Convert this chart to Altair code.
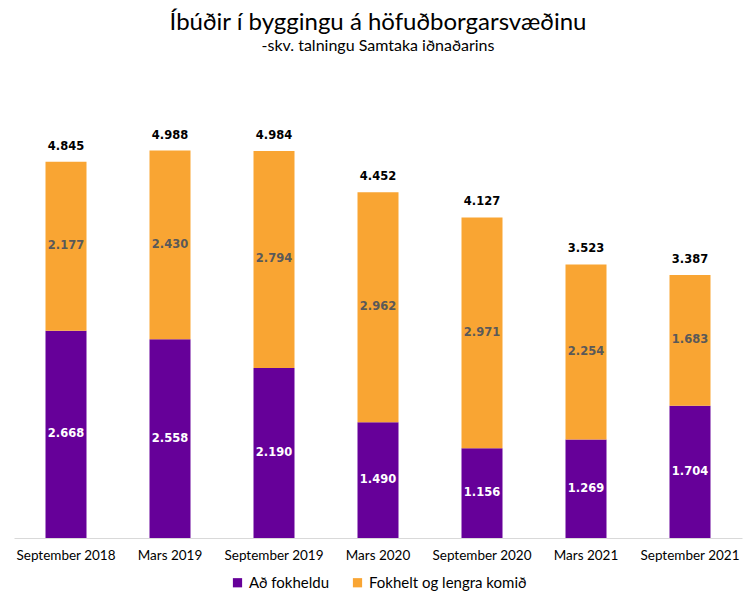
import altair as alt
import pandas as pd

periods = ["September 2018", "Mars 2019", "September 2019", "Mars 2020",
           "September 2020", "Mars 2021", "September 2021"]
series_names = ["Að fokheldu", "Fokhelt og lengra komið"]
ad_fokheldu = [2668, 2558, 2190, 1490, 1156, 1269, 1704]
fokhelt = [2177, 2430, 2794, 2962, 2971, 2254, 1683]
colors = ["#660099", "#F9A533"]
label_colors = ["#FFFFFF", "#595959"]


def fmt(v):
    return f"{v:,}".replace(",", ".")


rows = []
for i, p in enumerate(periods):
    for k, (name, vals) in enumerate(zip(series_names, [ad_fokheldu, fokhelt])):
        rows.append({"period": p, "series": name, "value": vals[i], "ord": k,
                     "label": fmt(vals[i]), "lcolor": label_colors[k]})
df = pd.DataFrame(rows)

totals = [a + b for a, b in zip(ad_fokheldu, fokhelt)]
df_tot = pd.DataFrame({"period": periods, "total": totals,
                       "label": [fmt(t) for t in totals]})

FONT = "Lato"
x_enc = alt.X("period:N", sort=periods, title=None,
              scale=alt.Scale(paddingInner=0.6, paddingOuter=0.3),
              axis=alt.Axis(labelAngle=0, ticks=False, domainColor="#d9d9d9",
                            labelFont=FONT, labelFontSize=13.5, labelColor="#000000",
                            labelPadding=10, grid=False))
y_scale = alt.Scale(domain=[0, 6000])

base = alt.Chart(df).transform_stack(
    stack="value", as_=["y0", "y1"], groupby=["period"],
    sort=[alt.SortField("ord", order="ascending")]
).transform_calculate(mid="(datum.y0 + datum.y1) / 2")

bars = base.mark_bar(size=41).encode(
    x=x_enc,
    y=alt.Y("y0:Q", scale=y_scale, axis=None),
    y2="y1:Q",
    color=alt.Color("series:N", scale=alt.Scale(domain=series_names, range=colors),
                    legend=alt.Legend(title=None, orient="none", direction="horizontal",
                                      legendX=216, legendY=503, symbolType="square",
                                      symbolSize=85, labelFont=FONT, labelFontSize=15,
                                      labelColor="#000000", columnPadding=20,
                                      labelOffset=4, labelLimit=400,
                                      symbolStrokeWidth=0)),
)

seg_text = base.mark_text(font="DejaVu Sans", fontWeight="bold", fontSize=11.5,
                          baseline="middle").encode(
    x=alt.X("period:N", sort=periods),
    y=alt.Y("mid:Q", scale=y_scale),
    text="label:N",
    color=alt.Color("lcolor:N", scale=None),
)

tot_text = alt.Chart(df_tot).mark_text(font="DejaVu Sans", fontWeight="bold",
                                       fontSize=11.5, baseline="bottom", dy=-10,
                                       color="#000000").encode(
    x=alt.X("period:N", sort=periods),
    y=alt.Y("total:Q", scale=y_scale),
    text="label:N",
)

chart = alt.layer(bars, seg_text, tot_text).properties(
    width=728, height=466,
    autosize=alt.AutoSizeParams(type="none"),
    padding={"left": 14, "top": 72, "right": 14, "bottom": 67},
    title=alt.TitleParams(
        text="Íbúðir í byggingu á höfuðborgarsvæðinu",
        subtitle="-skv. talningu Samtaka iðnaðarins",
        font=FONT, fontSize=24, fontWeight="normal", color="#000000",
        subtitleFont=FONT, subtitleFontSize=16, subtitleColor="#000000",
        subtitlePadding=3, anchor="middle", offset=18),
).configure_view(stroke=None)

chart.save("out.html", embed_options={"renderer": "svg", "actions": False})
